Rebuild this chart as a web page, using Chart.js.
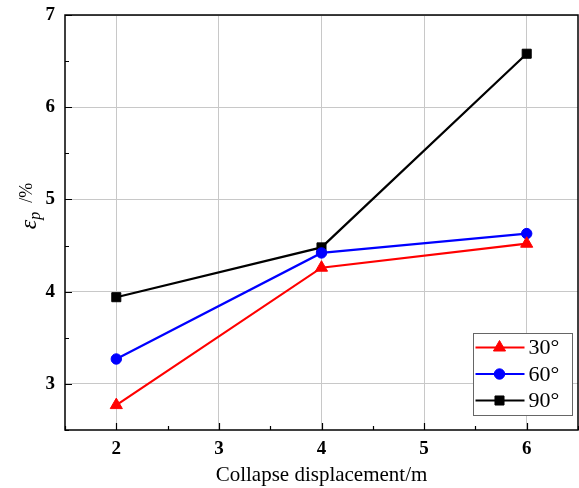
<!DOCTYPE html>
<html><head><meta charset="utf-8">
<script src="https://cdn.jsdelivr.net/npm/chart.js@4"></script>
<style>html,body{margin:0;padding:0;background:#fff}#wrap{width:579px;height:488px}</style>
</head><body><div id="wrap"><canvas id="c" width="579" height="488"></canvas></div>
<script>
const xValues = [2, 4, 6];
const s30 = [2.77, 4.26, 4.52];
const s60 = [3.27, 4.42, 4.63];
const s90 = [3.94, 4.48, 6.58];
const seriesLabels = ['30°', '60°', '90°'];
const xTicks = [2, 3, 4, 5, 6];
const yTicks = [3, 4, 5, 6, 7];

const toPts = arr => arr.map((v, i) => ({x: xValues[i], y: v}));
const serif = '"Liberation Serif", "Times New Roman", serif';

const frame = {
  id: 'frame',
  afterDraw(chart) {
    const {ctx, chartArea: a, scales: {x, y}} = chart;
    ctx.save();
    ctx.strokeStyle = '#000';
    ctx.lineWidth = 1.5;
    ctx.strokeRect(a.left, a.top, a.right - a.left, a.bottom - a.top);
    ctx.lineWidth = 1.2;
    ctx.beginPath();
    for (let v = 1.5; v <= 6.5; v += 0.5) {
      const px = Math.round(x.getPixelForValue(v)) + 0.5;
      const len = Number.isInteger(v) ? 7 : 4;
      ctx.moveTo(px, a.bottom); ctx.lineTo(px, a.bottom - len);
    }
    for (let v = 2.5; v <= 7; v += 0.5) {
      const py = Math.round(y.getPixelForValue(v)) + 0.5;
      const len = Number.isInteger(v) ? 7 : 4;
      ctx.moveTo(a.left, py); ctx.lineTo(a.left + len, py);
    }
    ctx.stroke();
    // y axis title
    ctx.translate(30, 206);
    ctx.rotate(-Math.PI / 2);
    ctx.fillStyle = '#000';
    ctx.textBaseline = 'middle';
    ctx.font = 'italic 24px ' + serif;
    const w1 = ctx.measureText('ε').width;
    ctx.font = 'italic 16px ' + serif;
    const w2 = ctx.measureText('p').width;
    ctx.font = '18px ' + serif;
    const w3 = ctx.measureText('/%').width;
    const gap = 9;
    let sx = -(w1 + w2 + gap + w3) / 2;
    ctx.font = 'italic 24px ' + serif;
    ctx.fillText('ε', sx, 0);
    ctx.font = 'italic 16px ' + serif;
    ctx.fillText('p', sx + w1, 6);
    ctx.font = '18px ' + serif;
    ctx.fillText('/%', sx + w1 + w2 + gap, -3);
    ctx.restore();
    // legend
    ctx.save();
    const bx = 473.5, by = 333.5, bw = 99, bh = 82;
    ctx.fillStyle = '#fff';
    ctx.fillRect(bx, by, bw, bh);
    ctx.strokeStyle = '#666';
    ctx.lineWidth = 1;
    ctx.strokeRect(bx, by, bw, bh);
    chart.data.datasets.forEach((ds, i) => {
      const cy = by + 14 + i * 26.5;
      ctx.strokeStyle = ds.borderColor;
      ctx.lineWidth = 2.2;
      ctx.beginPath(); ctx.moveTo(bx + 2, cy); ctx.lineTo(bx + 51, cy); ctx.stroke();
      ctx.fillStyle = ds.borderColor;
      ctx.lineWidth = 1;
      Chart.helpers.drawPoint(ctx, {pointStyle: ds.pointStyle, radius: ds.pointRadius, borderWidth: 1, rotation: 0}, bx + 26, cy);
      ctx.fillStyle = '#000';
      ctx.font = '22px ' + serif;
      ctx.textBaseline = 'middle';
      ctx.fillText(ds.label, bx + 55, cy + 1);
    });
    ctx.restore();
  }
};

new Chart(document.getElementById('c'), {
  type: 'line',
  data: {
    datasets: [
      {label: seriesLabels[0], data: toPts(s30), borderColor: '#ff0000', backgroundColor: '#ff0000', pointStyle: 'triangle', pointRadius: 7, borderWidth: 2.2, pointBorderWidth: 1},
      {label: seriesLabels[1], data: toPts(s60), borderColor: '#0000ff', backgroundColor: '#0000ff', pointStyle: 'circle', pointRadius: 5.2, borderWidth: 2.2, pointBorderWidth: 1},
      {label: seriesLabels[2], data: toPts(s90), borderColor: '#000000', backgroundColor: '#000000', pointStyle: 'rect', pointRadius: 6.4, borderWidth: 2.2, pointBorderWidth: 1}
    ]
  },
  options: {
    responsive: false,
    animation: false,
    devicePixelRatio: 1,
    layout: {autoPadding: false, padding: {top: 15, right: 1, left: 0, bottom: 0}},
    plugins: {legend: {display: false}, tooltip: {enabled: false}},
    scales: {
      x: {
        type: 'linear', min: 1.5, max: 6.5,
        afterBuildTicks: s => { s.ticks = xTicks.map(v => ({value: v})); },
        afterFit: s => { s.height = 58; s.paddingLeft = 0; s.paddingRight = 0; },
        grid: {color: '#c8c8c8', drawTicks: false, lineWidth: 1},
        border: {display: false},
        ticks: {color: '#000', font: {family: serif, size: 19, weight: 'bold'}, padding: 8},
        title: {display: true, text: 'Collapse displacement/m', color: '#000', font: {family: serif, size: 21}, padding: {top: 1, bottom: 0}}
      },
      y: {
        type: 'linear', min: 2.5, max: 7,
        afterBuildTicks: s => { s.ticks = yTicks.map(v => ({value: v})); },
        afterFit: s => { s.width = 65; s.paddingTop = 0; s.paddingBottom = 0; },
        grid: {color: '#c8c8c8', drawTicks: false, lineWidth: 1},
        border: {display: false},
        ticks: {color: '#000', font: {family: serif, size: 19, weight: 'bold'}, padding: 10}
      }
    }
  },
  plugins: [frame]
});
</script></body></html>
